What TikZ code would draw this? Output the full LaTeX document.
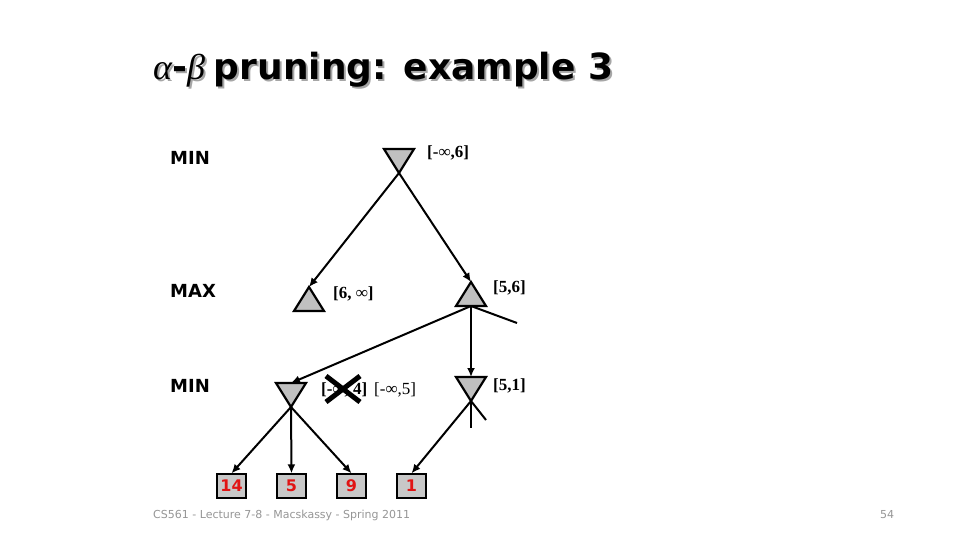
\documentclass[tikz,border=0pt]{standalone}
\usepackage{fontspec}
\setmainfont{Liberation Serif}
\newfontfamily\vf{DejaVu Sans}
\usetikzlibrary{arrows.meta,calc}
\definecolor{trigray}{RGB}{192,192,192}
\definecolor{leafgray}{RGB}{200,200,200}
\definecolor{leafred}{RGB}{225,20,20}
\definecolor{footgray}{RGB}{150,150,150}
\newcommand\ttltext{\fontsize{36}{40}\selectfont{\itshape α}{\vf\bfseries -}{\itshape β} {\vf\bfseries pruning: example 3}}
\begin{document}
\begin{tikzpicture}[x=1pt,y=-1pt,
  edge/.style={line width=2pt,-{Latex[length=9pt,width=8pt]}},
  stub/.style={line width=2pt},
  trishape/.style={fill=trigray,draw=black,line width=2.2pt,line join=miter},
  lvl/.style={font=\vf\bfseries\fontsize{18}{20}\selectfont,anchor=west,inner sep=0},
  ival/.style={font=\bfseries\fontsize{17}{20}\selectfont,anchor=west,inner sep=0},
  ivalr/.style={font=\fontsize{17}{20}\selectfont,anchor=west,inner sep=0},
  leaf/.style={draw=black,line width=1.3pt,fill=leafgray,minimum width=29pt,minimum height=24pt,inner sep=0,text=leafred,font=\vf\bfseries\fontsize{16}{18}\selectfont},
  foot/.style={anchor=base west,inner sep=0,text=footgray,font=\vf\fontsize{11}{13}\selectfont},
  mintri/.pic={\draw[trishape] (-15,-12) -- (15,-12) -- (0,12) -- cycle; \coordinate (-apex) at (0,12); \coordinate (-top) at (0,-12);},
  maxtri/.pic={\draw[trishape] (-15,12) -- (15,12) -- (0,-12) -- cycle; \coordinate (-apex) at (0,-12); \coordinate (-base) at (0,12);},
]
\useasboundingbox[fill=white] (0,0) rectangle (960,540);
% title
\node[anchor=base west,inner sep=0,text=black!35] (titleshadow) at (155,82) {\ttltext};
\node[anchor=base west,inner sep=0] (title) at (153,80) {\ttltext};
% level labels
\node[lvl] (lv1) at (170,158) {MIN};
\node[lvl] (lv2) at (170,291) {MAX};
\node[lvl] (lv3) at (170,386) {MIN};
% triangles
\pic (root) at (399,161) {mintri};
\pic (lmax) at (309,299) {maxtri};
\pic (rmax) at (471,294) {maxtri};
\pic (lmin) at (291,395) {mintri};
\pic (rmin) at (471,389) {mintri};
% leaves
\node[leaf] (l14) at (231.5,486) {14};
\node[leaf] (l5) at (291.5,486) {5};
\node[leaf] (l9) at (351.5,486) {9};
\node[leaf] (l1) at (411.5,486) {1};
% stubs
\coordinate (rmaxstub) at (517,323);
\coordinate (rminstubA) at (471,428);
\coordinate (rminstubB) at (486,420);
% edges
\draw[edge] (root-apex) -- (lmax-apex);
\draw[edge] (root-apex) -- (rmax-apex);
\draw[edge] (rmax-base) -- (lmin-top);
\draw[edge] (rmax-base) -- (rmin-top);
\draw[stub] (rmax-base) -- (rmaxstub);
\draw[edge] (lmin-apex) -- (l14.north);
\draw[edge] (lmin-apex) -- (l5.north);
\draw[edge] (lmin-apex) -- (l9.north);
\draw[edge] (rmin-apex) -- (l1.north);
\draw[stub] (rmin-apex) -- (rminstubA);
\draw[stub] (rmin-apex) -- (rminstubB);
% interval labels
\node[ival] (iroot) at (427,153) {[-∞,6]};
\node[ival] (ilmax) at (333,294) {[6, ∞]};
\node[ival] (irmax) at (493,288) {[5,6]};
\node[ival] (ilminold) at (321,390) {[-∞, 4]};
\node[ivalr] (ilmin) at (374,390) {[-∞,5]};
\node[ival] (irmin) at (493,386) {[5,1]};
\draw[line width=5pt] ($(ilminold.west)+(5,-14)$) -- ($(ilminold.west)+(39,12)$);
\draw[line width=5pt] ($(ilminold.west)+(39,-14)$) -- ($(ilminold.west)+(5,12)$);
% footer
\node[foot] (footer) at (153,518) {CS561 - Lecture 7-8 - Macskassy - Spring 2011};
\node[foot] (pagenum) at (880,518) {54};
\end{tikzpicture}
\end{document}
